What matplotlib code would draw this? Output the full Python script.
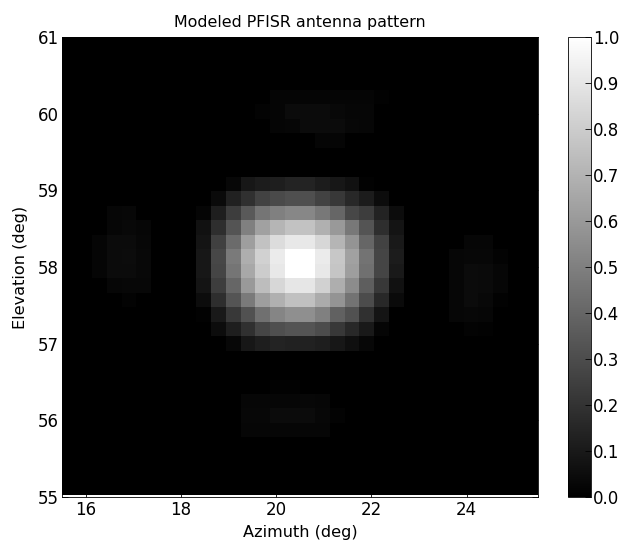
import numpy as np
import matplotlib
matplotlib.use('Agg')
import matplotlib.pyplot as plt

# grid of the modeled pattern
n_cells = 32
az_edges = np.linspace(15.5, 25.5, n_cells + 1)
el_edges = np.linspace(55.02, 61.07, n_cells + 1)

# main lobe, read top row first, starts at column 9 and row 21
main_lobe = [
    [0.00, 0.00, 0.03, 0.09, 0.11, 0.12, 0.14, 0.14, 0.11, 0.09, 0.07, 0.01, 0.00, 0.00],
    [0.00, 0.04, 0.13, 0.19, 0.26, 0.29, 0.31, 0.31, 0.26, 0.22, 0.16, 0.11, 0.05, 0.00],
    [0.02, 0.12, 0.24, 0.35, 0.46, 0.50, 0.53, 0.53, 0.47, 0.40, 0.28, 0.24, 0.14, 0.05],
    [0.07, 0.18, 0.33, 0.50, 0.63, 0.71, 0.76, 0.76, 0.69, 0.60, 0.47, 0.33, 0.18, 0.08],
    [0.08, 0.25, 0.42, 0.62, 0.76, 0.86, 0.91, 0.91, 0.84, 0.71, 0.58, 0.40, 0.26, 0.10],
    [0.09, 0.28, 0.48, 0.68, 0.82, 0.92, 1.00, 1.00, 0.92, 0.78, 0.63, 0.45, 0.27, 0.11],
    [0.09, 0.27, 0.46, 0.66, 0.80, 0.91, 1.00, 1.00, 0.91, 0.77, 0.62, 0.44, 0.27, 0.10],
    [0.08, 0.24, 0.40, 0.60, 0.74, 0.84, 0.90, 0.90, 0.82, 0.68, 0.55, 0.37, 0.22, 0.07],
    [0.05, 0.18, 0.33, 0.48, 0.62, 0.69, 0.75, 0.75, 0.67, 0.58, 0.45, 0.30, 0.16, 0.04],
    [0.01, 0.10, 0.22, 0.32, 0.44, 0.52, 0.56, 0.56, 0.50, 0.38, 0.32, 0.19, 0.08, 0.00],
    [0.00, 0.05, 0.12, 0.19, 0.27, 0.31, 0.33, 0.33, 0.30, 0.22, 0.16, 0.10, 0.02, 0.00],
    [0.00, 0.00, 0.03, 0.09, 0.12, 0.14, 0.13, 0.13, 0.12, 0.09, 0.06, 0.03, 0.00, 0.00],
]

# side lobes, top row first, starting (row, column) given next to them
left_lobe = [  # row 19, col 2
    [0.000, 0.025, 0.030, 0.000],
    [0.000, 0.025, 0.035, 0.025],
    [0.020, 0.045, 0.045, 0.030],
    [0.020, 0.045, 0.050, 0.035],
    [0.020, 0.045, 0.045, 0.035],
    [0.000, 0.025, 0.030, 0.030],
    [0.000, 0.000, 0.015, 0.000],
]
right_lobe = [  # row 17, col 26
    [0.000, 0.025, 0.025, 0.000],
    [0.025, 0.030, 0.030, 0.015],
    [0.025, 0.045, 0.040, 0.025],
    [0.025, 0.045, 0.040, 0.025],
    [0.025, 0.045, 0.035, 0.010],
    [0.025, 0.030, 0.025, 0.000],
    [0.000, 0.015, 0.010, 0.000],
]
top_lobe = [  # row 27, col 13
    [0.000, 0.020, 0.020, 0.020, 0.020, 0.020, 0.020, 0.020, 0.010],
    [0.015, 0.020, 0.045, 0.045, 0.045, 0.035, 0.025, 0.025, 0.000],
    [0.000, 0.020, 0.025, 0.045, 0.045, 0.045, 0.030, 0.025, 0.000],
    [0.000, 0.000, 0.000, 0.000, 0.020, 0.020, 0.000, 0.000, 0.000],
]
bottom_lobe = [  # row 7, col 12
    [0.000, 0.000, 0.010, 0.010, 0.000, 0.000, 0.000],
    [0.025, 0.025, 0.025, 0.025, 0.030, 0.025, 0.000],
    [0.030, 0.030, 0.045, 0.045, 0.045, 0.030, 0.015],
    [0.025, 0.025, 0.025, 0.025, 0.025, 0.025, 0.000],
]

pattern = np.zeros((n_cells, n_cells))
for block, row, col in [(main_lobe, 21, 9), (left_lobe, 19, 2), (right_lobe, 17, 26),
                        (top_lobe, 27, 13), (bottom_lobe, 7, 12)]:
    block = np.array(block)
    # rows are listed top down, the grid runs bottom up
    pattern[row - block.shape[0] + 1:row + 1, col:col + block.shape[1]] = block[::-1]

fig = plt.figure(figsize=(6.23, 5.40), dpi=100)
ax = fig.add_axes([62 / 623, 1 - 497 / 540, 476 / 623, 460 / 540])
cax = fig.add_axes([567.5 / 623, 1 - 497 / 540, 23 / 623, 460 / 540])

mesh = ax.pcolormesh(az_edges, el_edges, pattern, cmap='gray', vmin=0, vmax=1)
ax.set_xlim(15.5, 25.5)
ax.set_ylim(55, 61)
ax.set_xticks([16, 18, 20, 22, 24])
ax.set_yticks([55, 56, 57, 58, 59, 60, 61])
ax.tick_params(direction='in', length=4, width=0.6, labelsize=12, top=True, right=True)
ax.tick_params(axis='x', pad=3)
ax.tick_params(axis='y', pad=2)
ax.set_xlabel('Azimuth (deg)', fontsize=11.6, labelpad=4)
ax.set_ylabel('Elevation (deg)', fontsize=11.6, labelpad=7)
ax.set_title('Modeled PFISR antenna pattern', fontsize=11.45, pad=7.5)
for s in ax.spines.values():
    s.set_linewidth(0.6)

cb = fig.colorbar(mesh, cax=cax, ticks=np.arange(0, 1.01, 0.1))
cb.ax.tick_params(direction='in', length=4, width=0.6, labelsize=12, pad=2)
cb.outline.set_linewidth(0.6)

plt.savefig('out.png', dpi=100)
